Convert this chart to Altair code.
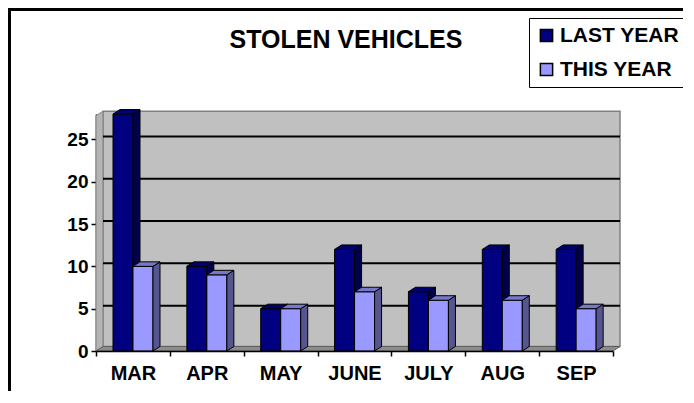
import altair as alt
import pandas as pd

# ---- data ----
months = ["MAR", "APR", "MAY", "JUNE", "JULY", "AUG", "SEP"]
last_year = [28, 10, 5, 12, 7, 12, 12]
this_year = [10, 9, 5, 7, 6, 6, 5]
series = ["LAST YEAR", "THIS YEAR"]
y_ticks = [0, 5, 10, 15, 20, 25]
TITLE = "STOLEN VEHICLES"

# ---- layout / style constants ----
W, H = 517, 237
Y_MAX = 28
n = len(months)
px_x = W / n
px_y = H / Y_MAX
DX = 7 / px_x          # 3-D depth, x units
DY = 4.5 / px_y        # 3-D depth, y units
GRID_DY = 3 / px_y
BAR_OFF = 17 / px_x
BAR_W = 20 / px_x
WALL_TOP = 27.8
FONT = "Liberation Sans"
FRONT = {"LAST YEAR": "#000080", "THIS YEAR": "#9999FF"}
SIDE = {"LAST YEAR": "#00004D", "THIS YEAR": "#55558F"}
TOP = {"LAST YEAR": "#00006E", "THIS YEAR": "#7777CC"}

# ---- derived geometry tables ----
fronts, sides, tops = [], [], []
for s_i, (name, vals) in enumerate(zip(series, [last_year, this_year])):
    for i, (m, v) in enumerate(zip(months, vals)):
        x0 = i + BAR_OFF + s_i * BAR_W
        x1 = x0 + BAR_W
        fid = f"{name}-{m}"
        fronts.append(dict(series=name, month=m, x0=x0, x1=x1, y0=0, v=v))
        sides += [
            dict(series=name, face=fid, x=x1, y=0, y2=v),
            dict(series=name, face=fid, x=x1 + DX, y=DY, y2=v + DY),
        ]
        tops += [
            dict(series=name, face=fid, x=x0, y=v, y2=v),
            dict(series=name, face=fid, x=x0 + DX, y=v, y2=v + DY),
            dict(series=name, face=fid, x=x1, y=v, y2=v + DY),
            dict(series=name, face=fid, x=x1 + DX, y=v + DY, y2=v + DY),
        ]
fronts = pd.DataFrame(fronts)
sides = pd.DataFrame(sides)
tops = pd.DataFrame(tops)

wall_df = pd.DataFrame({"x0": [DX], "x1": [n + DX], "y0": [DY], "y1": [WALL_TOP + DY]})
left_df = pd.DataFrame({"x": [0, DX], "y": [0, DY], "y2": [WALL_TOP, WALL_TOP + DY]})
floor_df = pd.DataFrame({"x": [0, DX, n, n + DX], "y": [0, 0, 0, DY], "y2": [0, DY, DY, DY]})
grid_df = pd.DataFrame({"y": [t + GRID_DY for t in y_ticks[1:]], "x0": DX, "x1": n + DX})

xq = alt.Scale(domain=[0, n], nice=False, zero=False)
ys = alt.Scale(domain=[0, Y_MAX], nice=False, zero=False)
color_scale = alt.Scale(domain=series, range=[FRONT[s] for s in series])

legend = alt.Legend(
    title=None, orient="none", legendX=433, legendY=-96,
    symbolType="square", symbolSize=150, symbolStrokeColor="black",
    symbolStrokeWidth=1.5, labelFont=FONT, labelFontSize=21,
    labelFontWeight="bold", labelColor="black", labelOffset=3,
    rowPadding=12, padding=7, strokeColor="black",
    fillColor="white",
)

yaxis = alt.Axis(
    title=None, values=y_ticks, labelFont=FONT, labelFontSize=19,
    labelFontWeight="bold", labelColor="black", tickColor="black",
    tickSize=5, tickWidth=1.5, domainColor="black", domainWidth=1.5,
    labelPadding=3, grid=False,
)


def qx(field):
    return alt.X(field, type="quantitative", scale=xq, axis=None)


def qy(field):
    return alt.Y(field, type="quantitative", scale=ys, axis=yaxis, stack=None)


wall = alt.Chart(wall_df).mark_rect(fill="#C0C0C0", stroke="#808080", strokeWidth=1.5).encode(
    x=qx("x0"), x2="x1", y=qy("y0"), y2="y1"
)
left_wall = alt.Chart(left_df).mark_area(fill="#B4B4B4", stroke="#808080", strokeWidth=1).encode(
    x=qx("x"), y=qy("y"), y2="y2"
)
floor = alt.Chart(floor_df).mark_area(fill="#8C8C8C", stroke="#606060", strokeWidth=1).encode(
    x=qx("x"), y=qy("y"), y2="y2"
)
grid = alt.Chart(grid_df).mark_rule(color="black", strokeWidth=2).encode(
    x=qx("x0"), x2="x1", y=qy("y")
)

layers = [wall, left_wall, floor, grid]
for name in series:
    f = fronts[fronts.series == name]
    s = sides[sides.series == name]
    t = tops[tops.series == name]
    layers.append(
        alt.Chart(f).mark_rect(stroke="black", strokeWidth=1).encode(
            x=qx("x0"), x2="x1", y=qy("v"), y2="y0",
            color=alt.Color("series:N", scale=color_scale, legend=legend),
        )
    )
    layers.append(
        alt.Chart(s).mark_area(fill=SIDE[name], stroke="black", strokeWidth=1).encode(
            x=qx("x"), y=qy("y"), y2="y2", detail="face:N"
        )
    )
    layers.append(
        alt.Chart(t).mark_area(fill=TOP[name], stroke="black", strokeWidth=1).encode(
            x=qx("x"), y=qy("y"), y2="y2", detail="face:N"
        )
    )

axis_layer = alt.Chart(pd.DataFrame({"month": months})).mark_rect(opacity=0).encode(
    x=alt.X(
        "month:N", sort=months,
        scale=alt.Scale(paddingInner=0, paddingOuter=0),
        axis=alt.Axis(
            title=None, tickBand="extent", labelAngle=0, labelFont=FONT,
            labelFontSize=20, labelFontWeight="bold", labelColor="black",
            tickColor="black", tickSize=5, tickWidth=1.5, domainColor="black",
            domainWidth=1.5, labelPadding=7, grid=False,
        ),
    )
)
layers.append(axis_layer)

title = alt.Chart(pd.DataFrame({"t": [TITLE]})).mark_text(
    font=FONT, fontSize=25, fontWeight="bold", color="black",
    align="center", baseline="alphabetic",
).encode(text="t:N", x=alt.value(250), y=alt.value(-66))

border_top = alt.Chart(pd.DataFrame({"a": [0]})).mark_rule(color="black", strokeWidth=3).encode(
    x=alt.value(-88), x2=alt.value(W + 72), y=alt.value(-104.5)
)
border_left = alt.Chart(pd.DataFrame({"a": [0]})).mark_rule(color="black", strokeWidth=3).encode(
    x=alt.value(-86.5), y=alt.value(-106), y2=alt.value(H + 42)
)
layers += [title, border_top, border_left]

chart = (
    alt.layer(*layers)
    .resolve_scale(x="independent")
    .properties(
        width=W, height=H,
        padding={"left": 88, "top": 106, "right": 70, "bottom": 40},
        autosize=alt.AutoSizeParams(type="none"),
        background="white",
    )
    .configure_view(stroke=None)
)

chart.save("out.html", embed_options={"renderer": "svg", "actions": False})
